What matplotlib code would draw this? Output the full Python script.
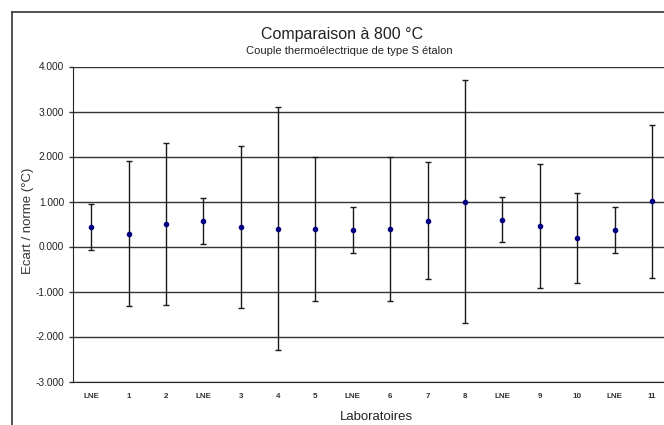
import numpy as np
import matplotlib
matplotlib.use('Agg')
import matplotlib.pyplot as plt
from matplotlib.lines import Line2D

labos = ['LNE', '1', '2', 'LNE', '3', '4', '5', 'LNE', '6', '7', '8', 'LNE', '9', '10', 'LNE', '11']
ecart = [0.44, 0.28, 0.51, 0.57, 0.43, 0.40, 0.40, 0.37, 0.40, 0.57, 1.00, 0.60, 0.46, 0.18, 0.37, 1.01]
incert = [0.51, 1.61, 1.80, 0.51, 1.80, 2.70, 1.60, 0.51, 1.60, 1.30, 2.70, 0.51, 1.38, 1.00, 0.51, 1.70]
yticks = [-3, -2, -1, 0, 1, 2, 3, 4]

plt.rcParams['font.family'] = ['Liberation Sans', 'DejaVu Sans']

W, H = 664, 425
fig = plt.figure(figsize=(W/100, H/100), dpi=100)

# cadre du graphique (coupé à droite et en bas)
fig.add_artist(Line2D([11.5/W, 11.5/W], [0, 1-11.7/H], color='#333333', lw=1.2))
fig.add_artist(Line2D([11.5/W, 1], [1-11.7/H, 1-11.7/H], color='#333333', lw=1.2))

ax = fig.add_axes([72.5/W, 43.5/H, (W-72.5)/W, 315/H])
x = np.arange(len(labos))
ax.errorbar(x, ecart, yerr=incert, fmt='o', color='#000080', ms=3,
            ecolor='#1a1a1a', elinewidth=1, capsize=2, capthick=1, zorder=3)

ax.set_xlim(-0.5, -0.5 + (W-72.5)/37.38)
ax.set_ylim(-3, 4)
ax.set_yticks(yticks)
ax.set_yticklabels(['%.3f' % v for v in yticks], fontsize=7.3, color='#222222')
ax.set_xticks(x)
ax.set_xticklabels(labos, fontsize=5.8, fontweight='bold', color='#333333')
ax.tick_params(axis='x', length=0, pad=8.5)
ax.tick_params(axis='y', length=3, width=1, pad=3, color='#333333')
ax.grid(axis='y', color='#333333', lw=1)
ax.set_axisbelow(True)
for s in ['top', 'right']:
    ax.spines[s].set_visible(False)
ax.spines['left'].set_color('#222222')
ax.spines['bottom'].set_color('#222222')

ax.set_ylabel('Ecart / norme (°C)', fontsize=9.5, color='#333333')
ax.yaxis.set_label_coords((34-72.5)/(W-72.5), 0.51)

fig.text(376/W, 1-416.7/H, 'Laboratoires', ha='center', va='center', fontsize=9.5, color='#222222')
fig.text(342/W, 1-35/H, 'Comparaison à 800 °C', ha='center', va='center',
         fontsize=11.5, color='#222222')
fig.text(349/W, 1-51.5/H, 'Couple thermoélectrique de type S étalon', ha='center', va='center',
         fontsize=8, color='#222222')

fig.savefig('out.png', dpi=100)
